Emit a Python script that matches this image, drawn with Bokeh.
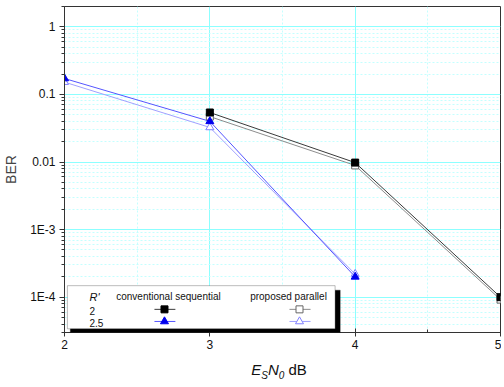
from bokeh.plotting import figure
from bokeh.models import (ColumnDataSource, FixedTicker, CustomJSTickFormatter,
                          Label, BoxAnnotation, Range1d, Div)
from bokeh.layouts import column
from bokeh.embed import file_html
from bokeh.resources import INLINE

# ---- data ----
snr_conv2 = [3, 4, 5]
ber_conv2 = [0.054, 0.0098, 1.0e-4]
snr_prop2 = [3, 4, 5]
ber_prop2 = [0.047, 0.0089, 0.92e-4]
snr_conv25 = [2, 3, 4]
ber_conv25 = [0.172, 0.040, 2.0e-4]
snr_prop25 = [2, 3, 4]
ber_prop25 = [0.152, 0.0325, 2.2e-4]

x_ticks = [2, 3, 4, 5]
x_minor = [2.5, 3.5, 4.5]
y_ticks = [1e-4, 1e-3, 1e-2, 1e-1, 1]
y_tick_labels = ["1E-4", "1E-3", "0.01", "0.1", "1"]
y_minor = [m * 10.0 ** e for e in range(-5, 1) for m in range(2, 10)]

# legend key layout (decoration, data-space anchors)
key_x_conv = [2.619, 2.688, 2.763]
key_x_prop = [3.548, 3.617, 3.693]
key_y_rows = [6.6e-5, 4.37e-5]

FONT = "Liberation Sans"

p = figure(frame_width=436, frame_height=326, output_backend="svg", toolbar_location=None,
           y_axis_type="log", x_range=Range1d(2, 5), y_range=Range1d(3e-5, 2),
           min_border_left=61, min_border_right=1, min_border_top=6, min_border_bottom=26)
p.outline_line_color = "#333333"
p.background_fill_color = "white"
p.border_fill_color = "white"

p.xaxis.ticker = FixedTicker(ticks=x_ticks, minor_ticks=x_minor)
p.yaxis.ticker = FixedTicker(ticks=y_ticks, minor_ticks=y_minor)
p.yaxis.formatter = CustomJSTickFormatter(args=dict(vals=y_ticks, labels=y_tick_labels), code="""
const i = vals.findIndex(v => Math.abs(Math.log10(v) - Math.log10(tick)) < 1e-6);
return i >= 0 ? labels[i] : '';
""")
p.xgrid.grid_line_color = "#8cffff"
p.ygrid.grid_line_color = "#8cffff"
p.xgrid.minor_grid_line_color = "#c4ffff"
p.ygrid.minor_grid_line_color = "#c4ffff"
p.xgrid.minor_grid_line_dash = "2 2"
p.ygrid.minor_grid_line_dash = "2 2"

for ax in (p.xaxis[0], p.yaxis[0]):
    ax.axis_line_color = "#333333"
    ax.major_tick_line_color = "#333333"
    ax.minor_tick_line_color = "#333333"
    ax.major_label_text_font = FONT
    ax.major_label_text_font_size = "12px"
    ax.major_label_text_color = "#111111"
p.xaxis.major_tick_in = 4
p.xaxis.major_tick_out = 4
p.xaxis.minor_tick_in = 3
p.xaxis.minor_tick_out = 0
p.xaxis.major_label_standoff = 3
p.yaxis.major_tick_in = 0
p.yaxis.major_tick_out = 5
p.yaxis.minor_tick_in = 0
p.yaxis.minor_tick_out = 3
p.yaxis.major_label_standoff = 4
p.yaxis.axis_label = "BER"
p.yaxis.axis_label_text_font = FONT
p.yaxis.axis_label_text_font_style = "normal"
p.yaxis.axis_label_text_font_size = "14px"
p.yaxis.axis_label_standoff = 8

# series
s_c2 = ColumnDataSource(dict(x=snr_conv2, y=ber_conv2))
s_p2 = ColumnDataSource(dict(x=snr_prop2, y=ber_prop2))
s_c25 = ColumnDataSource(dict(x=snr_conv25, y=ber_conv25))
s_p25 = ColumnDataSource(dict(x=snr_prop25, y=ber_prop25))

styles = [
    (s_p2, "#8c8c8c", "square", 7, "white", "#666666"),
    (s_c2, "#3a3a3a", "square", 7, "black", "black"),
    (s_p25, "#a0a0ff", "triangle", 8, "white", "#8080ff"),
    (s_c25, "#5555ff", "triangle", 8, "#0000ee", "#0000ee"),
]
for src, lc, mk, sz, fc, mc in styles:
    p.line("x", "y", source=src, line_color=lc, line_width=1)
for src, lc, mk, sz, fc, mc in styles:
    p.scatter("x", "y", source=src, marker=mk, size=sz, fill_color=fc, line_color=mc)

# legend box with shadow
p.add_layout(BoxAnnotation(left=2.04, right=3.897, bottom=2.85e-5, top=1.27e-4,
                           fill_color="black", fill_alpha=1, line_color="black"))
p.add_layout(BoxAnnotation(left=2.02, right=3.862, bottom=3.4e-5, top=1.48e-4,
                           fill_color="white", fill_alpha=1, line_color="#222222", line_width=1))

# legend keys
key_styles = [
    (key_x_conv, 0, "#3a3a3a", "square", 7, "black", "black"),
    (key_x_conv, 1, "#5555ff", "triangle", 8, "#0000ee", "#0000ee"),
    (key_x_prop, 0, "#8c8c8c", "square", 7, "white", "#666666"),
    (key_x_prop, 1, "#a0a0ff", "triangle", 8, "white", "#8080ff"),
]
for kx, row, lc, mk, sz, fc, mc in key_styles:
    ky = key_y_rows[row]
    p.line([kx[0], kx[2]], [ky, ky], line_color=lc, line_width=1, level="overlay")
    p.scatter([kx[1]], [ky], marker=mk, size=sz, fill_color=fc, line_color=mc, level="overlay")

def lbl(x, y, t, size="10px", style="normal", align="left"):
    p.add_layout(Label(x=x, y=y, x_units="screen", y_units="screen", text=t,
                       text_font=FONT, text_font_size=size, text_font_style=style,
                       text_align=align, text_baseline="middle", text_color="#111111"))

lbl(25, 36, "R'", size="11px", style="italic")
lbl(25, 22, "2")
lbl(25, 10, "2.5")
lbl(104, 36, "conventional sequential", align="center")
lbl(224, 36, "proposed parallel", align="center")

# x axis label with subscripts (HTML text)
xlabel = Div(
    text='<i>E</i><sub style="font-size:10px"><i>S</i></sub><i>N</i>'
         '<sub style="font-size:10px"><i>0</i></sub> dB',
    width=436, height=24, margin=(3, 0, 0, 61),
    styles={"font-family": FONT, "font-size": "15px", "color": "#111111",
            "text-align": "center", "line-height": "17px"})

layout = column(p, xlabel, spacing=0)
open("out.html", "w").write(file_html(layout, INLINE))
